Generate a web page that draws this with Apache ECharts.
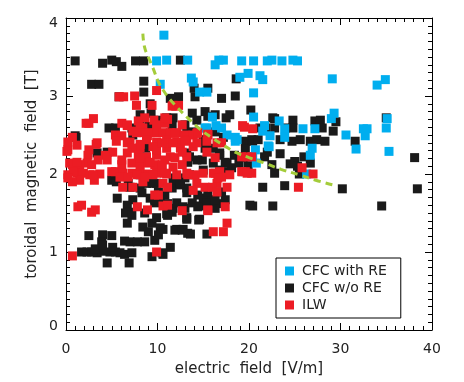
<!DOCTYPE html>
<html><head><meta charset="utf-8">
<script src="https://cdn.jsdelivr.net/npm/echarts@6/dist/echarts.min.js"></script>
<style>html,body{margin:0;padding:0;background:#fff}#c{width:464px;height:382px}</style>
</head><body><div id="c"></div>
<script>
// axis tick values
const xTicks = [0, 10, 20, 30, 40];
const yTicks = [0, 1, 2, 3, 4];

// series names
const seriesNames = ['CFC with RE', 'CFC w/o RE', 'ILW'];

// CFC with runaway electrons [E (V/m), B (T)]
const cfcWithRE = [
[10.7,3.78],[9.9,3.45],[11.0,3.46],[13.3,3.46],[10.3,3.15],[13.7,3.23],[13.9,3.18],[14.6,3.05],[15.4,3.05],
[16.7,3.46],[16.3,3.40],[17.2,3.46],[16.0,2.73],[15.4,2.59],[17.0,2.59],[17.6,2.50],[18.5,2.42],[15.2,2.59],
[19.2,3.45],[20.5,3.45],[19.9,3.29],[19.0,3.24],[20.5,2.73],[20.5,3.04],[22.0,3.45],[22.5,3.46],[23.6,3.45],
[24.8,3.46],[25.3,3.45],[21.2,3.26],[21.5,3.21],[29.1,3.22],[21.7,2.62],[21.5,2.55],[23.3,2.68],[23.9,2.58],
[22.3,2.49],[23.9,2.47],[25.9,2.58],[27.2,2.58],[29.0,2.71],[29.3,2.78],[30.6,2.50],[22.1,2.36],[26.9,2.33],
[34.9,3.21],[34.0,3.14],[35.1,2.71],[35.0,2.59],[32.5,2.58],[32.9,2.58],[32.7,2.49],[31.7,2.32],[35.3,2.29],
[26.7,2.24],[26.3,2.00],[20.7,2.31],[22.2,2.35],[20.8,2.14],[20.4,2.22],[18.5,2.47],[18.7,2.44],[16.4,2.62]
];

// CFC without runaway electrons
const cfcWithoutRE = [
[1.0,3.45],[4.0,3.42],[5.0,3.46],[5.5,3.44],[6.1,3.38],[7.6,3.45],[8.5,3.45],[12.5,3.46],
[2.8,3.15],[3.6,3.15],[8.5,3.19],[8.5,3.05],[5.8,2.99],[9.2,2.90],[8.1,2.76],[9.3,2.78],[4.7,2.59],[5.4,2.59],
[7.2,2.59],[1.0,2.49],[9.1,2.61],[11.4,2.97],[14.0,3.10],[14.1,2.99],[15.5,3.10],[17.0,2.97],[12.3,2.99],[18.5,3.00],
[13.8,2.78],[15.2,2.80],[17.5,2.72],[17.9,2.76],[11.7,2.72],[14.3,2.69],[15.5,2.74],[11.6,2.62],[9.9,2.69],[11.0,2.72],
[16.3,2.76],[20.2,2.82],[19.6,2.42],[20.3,2.44],[22.6,2.72],[24.8,2.69],[27.2,2.68],[27.8,2.69],[29.5,2.67],[29.2,2.55],
[28.0,2.59],[22.8,2.59],[24.8,2.59],[21.2,2.59],[20.4,2.42],[21.0,2.44],[24.7,2.42],[25.6,2.44],[26.7,2.42],[27.4,2.44],
[28.3,2.42],[23.4,2.44],[22.8,2.71],[35.0,2.72],[31.6,2.42],[38.1,2.21],[38.4,1.81],[30.2,1.81],[18.6,3.22],[21.8,2.59],
[24.0,2.59],[23.4,2.26],[22.5,2.12],[21.7,2.22],[24.5,2.13],[25.0,2.16],[26.0,2.22],[26.7,2.14],[22.8,2.01],[25.5,2.00],
[21.5,1.83],[23.9,1.85],[18.4,2.24],[18.9,2.14],[20.4,1.59],[22.6,1.59],[34.5,1.59],[22.0,2.28],[25.3,2.10],
[4.5,2.28],[8.7,2.33],[5.0,1.92],[5.6,1.69],[7.0,1.83],[8.1,1.82],[8.3,1.76],[7.3,1.67],[6.7,1.60],[7.0,1.51],
[6.5,1.50],[7.2,1.47],[6.7,1.37],[8.6,1.50],[8.4,1.32],[9.0,1.26],[9.4,1.37],[9.2,1.69],[9.7,1.63],[2.5,1.21],
[4.0,1.22],[5.0,1.21],[3.9,1.13],[6.4,1.14],[7.0,1.13],[7.8,1.13],[8.6,1.13],[1.7,1.00],[2.3,1.00],[2.8,1.00],
[3.4,0.99],[3.9,1.01],[3.2,1.04],[4.8,1.00],[5.4,1.00],[5.9,0.99],[6.4,0.97],[7.2,0.99],[4.5,0.86],[6.9,0.86],
[9.4,0.94],[5.1,1.06],[4.0,1.09],[9.7,1.15],[10.6,1.29],[12.1,1.29],[12.8,1.29],[13.6,1.23],[14.5,1.41],[15.4,1.23],
[11.4,1.06],[10.6,0.97],[9.9,1.44],[11.0,1.49],[11.1,1.62],[13.2,1.44],[11.7,1.56],[13.0,1.56],[14.6,1.59],[16.1,1.59],
[16.8,1.62],[15.4,1.69],[10.3,1.69],[9.9,1.88],[10.8,1.73],[11.6,1.82],[12.5,1.86],[13.2,1.82],[13.0,1.95],[11.9,1.95],
[13.2,1.76],[14.4,1.73],[15.0,1.69],[15.4,1.63],[16.3,1.56],[16.3,1.67],[17.4,1.67],[17.0,1.77],[15.5,1.77],[14.4,1.58],
[13.2,1.42],[14.6,1.42],[10.3,1.31],[11.9,1.28],[12.7,1.28],[13.3,1.24],[10.5,0.99],[20.1,1.60],[16.8,2.24],[17.4,2.15],
[17.4,2.03],[18.1,2.08],[15.2,2.33],[14.9,2.18],[13.3,2.15],[13.5,2.22],[10.1,1.77],[9.7,1.67],[11.6,1.51],[12.1,1.63],
[12.8,1.58],[13.8,1.63],[11.1,1.47],[10.1,1.22],[19.6,2.32],[19.9,2.12],[19.3,2.03],[19.0,2.21],[15.0,2.44],[16.1,2.33],
[16.8,2.27],[13.2,2.27],[14.3,2.18],[16.1,2.14],[17.6,2.14],[16.8,2.05],[15.0,2.05],[13.5,1.99],[5.5,1.90],[8.8,1.88],
[9.5,1.88],[8.1,1.99],[11.7,1.92],[12.5,1.88],[6.8,1.88],[3.4,2.27],[1.1,2.47],[7.3,2.50],[8.1,2.67],[13.0,2.63],
[13.2,2.53],[13.8,2.54],[16.3,2.54],[17.2,2.47]
];

// ILW
const ilw = [
[5.8,2.99],[6.3,2.99],[7.5,3.00],[7.7,2.88],[9.9,3.07],[2.5,2.65],[3.0,2.71],[6.1,2.65],[6.7,2.62],[8.6,2.72],
[7.9,2.68],[9.6,2.69],[8.4,2.59],[7.3,2.55],[5.4,2.50],[6.1,2.49],[0.7,2.47],[0.2,2.41],[1.2,2.37],[3.3,2.38],
[5.5,2.42],[7.0,2.41],[8.1,2.38],[8.9,2.49],[9.2,2.53],[9.9,2.53],[2.5,2.31],[9.4,2.88],[11.6,2.87],[12.0,2.87],
[2.2,2.65],[6.7,2.63],[8.1,2.60],[9.9,2.63],[10.8,2.65],[11.1,2.70],[12.7,2.63],[14.3,2.52],[15.5,2.50],[0.2,2.31],
[3.4,2.40],[6.7,2.40],[7.7,2.53],[8.4,2.53],[10.6,2.53],[11.4,2.53],[12.1,2.53],[13.0,2.50],[8.8,2.44],[9.9,2.41],
[11.0,2.44],[12.1,2.41],[13.2,2.44],[13.9,2.35],[12.5,2.33],[11.0,2.33],[9.5,2.35],[8.1,2.34],[7.2,2.33],[15.4,2.28],
[9.9,2.24],[11.4,2.22],[13.2,2.22],[8.8,2.22],[7.9,2.24],[6.7,2.27],[5.1,2.28],[4.3,2.24],[3.5,2.18],[2.4,2.24],
[2.3,2.14],[2.8,2.12],[1.5,2.12],[0.7,2.12],[0.2,1.99],[1.2,2.01],[1.9,2.01],[2.6,1.99],[3.7,2.00],[5.4,2.03],
[6.1,2.12],[7.2,2.14],[8.1,2.12],[9.0,2.14],[9.7,2.12],[10.5,2.09],[11.7,2.09],[12.7,2.12],[6.2,2.01],[7.2,2.01],
[8.1,2.01],[9.0,2.00],[9.9,2.01],[11.0,2.00],[12.1,1.99],[13.2,2.01],[14.1,1.99],[15.0,2.01],[16.1,2.01],[16.8,2.03],
[8.4,1.90],[10.6,1.88],[14.3,1.88],[16.5,1.88],[1.5,1.92],[0.7,1.90],[3.1,1.92],[0.1,2.29],[0.4,2.14],[1.2,2.15],
[4.5,2.18],[6.1,2.18],[8.1,2.21],[9.2,2.15],[0.8,2.03],[3.0,1.99],[5.0,2.03],[5.9,1.96],[6.8,1.96],[7.8,1.99],
[8.6,1.96],[9.5,1.99],[0.2,1.95],[6.2,1.83],[7.3,1.83],[7.8,1.58],[8.9,1.54],[9.7,1.73],[1.3,1.58],[1.7,1.60],
[2.8,1.51],[3.2,1.54],[0.7,0.95],[9.9,1.00],[10.6,1.59],[12.7,1.53],[15.5,1.53],[16.1,1.26],[17.2,1.26],[17.6,1.37],
[9.9,2.31],[10.8,2.18],[11.9,2.21],[12.7,2.28],[16.3,2.21],[10.5,2.12],[10.8,2.01],[13.3,1.99],[16.3,2.01],[17.0,1.96],
[17.9,1.99],[19.6,2.03],[20.3,2.01],[16.6,1.95],[11.1,1.83],[13.9,1.79],[15.2,1.83],[16.0,1.83],[16.5,1.77],[17.6,1.83],
[10.1,1.73],[11.1,1.60],[15.5,1.54],[17.4,1.58],[20.3,2.22],[25.8,2.08],[27.0,2.00],[25.4,1.83],[19.5,2.60],[20.4,2.58],
[19.2,2.22],[19.8,2.22],[19.2,2.03],[19.8,2.01],[11.7,2.88],[12.3,2.88],[10.8,2.72],[11.9,2.52],[13.9,2.50],[14.4,2.53],
[15.5,2.51],[19.3,2.62],[10.5,2.40],[11.7,2.40],[13.0,2.42],[14.3,2.40],[15.4,2.42],[16.5,2.40],[17.0,2.40]
];

// dashed green threshold curve
const thresholdCurve = [
[8.4,3.80],[8.6,3.62],[9.0,3.50],[9.5,3.36],[10.1,3.18],[10.6,3.08],[11.2,2.98],[12.2,2.85],[13.3,2.72],
[14.6,2.58],[16.0,2.46],[17.2,2.37],[18.5,2.28],[20.0,2.21],[21.7,2.14],[23.5,2.06],[25.5,1.99],[27.3,1.92],[29.2,1.86]
];

const colors = { withRE: '#00AEEF', withoutRE: '#1A1A1A', ilw: '#EC1C24', curve: '#A4CC3A' };
const FONT = 'DejaVu Sans';
const textColor = '#222';

function axisCommon(min, max, interval) {
  return {
    type: 'value', min: min, max: max, interval: interval,
    axisLine: { show: true, onZero: false, lineStyle: { color: '#000', width: 1 } },
    axisTick: { show: true, inside: true, length: 7, lineStyle: { color: '#000', width: 1 } },
    minorTick: { show: true, splitNumber: 10, length: 4, lineStyle: { color: '#000', width: 1 } },
    splitLine: { show: false },
    minorSplitLine: { show: false }
  };
}

const labelText = { fontFamily: FONT, fontSize: 14, color: textColor };

const chart = echarts.init(document.getElementById('c'), null, { renderer: 'canvas' });
chart.setOption({
  animation: false,
  backgroundColor: '#fff',
  grid: { left: 66, top: 18, right: 32, bottom: 52, containLabel: false },
  xAxis: [
    Object.assign(axisCommon(xTicks[0], xTicks[xTicks.length - 1], xTicks[1] - xTicks[0]), {
      position: 'bottom',
      name: 'electric  field  [V/m]', nameLocation: 'middle', nameGap: 32, nameMoveOverlap: false,
      nameTextStyle: { fontFamily: FONT, fontSize: 15, color: textColor, verticalAlign: 'top' },
      axisLabel: Object.assign({ show: true, margin: 12 }, labelText)
    }),
    Object.assign(axisCommon(xTicks[0], xTicks[xTicks.length - 1], xTicks[1] - xTicks[0]), {
      position: 'top', axisLabel: { show: false }
    })
  ],
  yAxis: [
    Object.assign(axisCommon(yTicks[0], yTicks[yTicks.length - 1], yTicks[1] - yTicks[0]), {
      position: 'left',
      name: 'toroidal  magnetic  field  [T]', nameLocation: 'middle', nameGap: 26, nameMoveOverlap: false,
      nameTextStyle: { fontFamily: FONT, fontSize: 15, color: textColor },
      axisLabel: Object.assign({
        show: true, margin: 8,
        formatter: function (v) {
          if (v === yTicks[yTicks.length - 1]) return '{top|' + v + '}';
          if (v === yTicks[0]) return '{bot|' + v + '}';
          return String(v);
        },
        rich: {
          top: Object.assign({ padding: [11, 0, 0, 0] }, labelText),
          bot: Object.assign({ padding: [0, 0, 7, 0] }, labelText)
        }
      }, labelText)
    }),
    Object.assign(axisCommon(yTicks[0], yTicks[yTicks.length - 1], yTicks[1] - yTicks[0]), {
      position: 'right', axisLabel: { show: false }
    })
  ],
  legend: {
    data: seriesNames,
    orient: 'vertical', left: 276, top: 258,
    icon: 'rect', itemWidth: 9, itemHeight: 9, itemGap: 3,
    padding: [6, 14, 6, 9],
    borderColor: '#000', borderWidth: 1, backgroundColor: '#fff',
    textStyle: { fontFamily: FONT, fontSize: 14, color: textColor, padding: [0, 0, 0, 3] }
  },
  series: [
    { name: seriesNames[1], type: 'scatter', data: cfcWithoutRE, symbol: 'rect', symbolSize: 9,
      itemStyle: { color: colors.withoutRE, opacity: 1 }, xAxisIndex: 0, yAxisIndex: 0 },
    { name: seriesNames[0], type: 'scatter', data: cfcWithRE, symbol: 'rect', symbolSize: 9,
      itemStyle: { color: colors.withRE, opacity: 1 }, xAxisIndex: 0, yAxisIndex: 0 },
    { name: seriesNames[2], type: 'scatter', data: ilw, symbol: 'rect', symbolSize: 9,
      itemStyle: { color: colors.ilw, opacity: 1 }, xAxisIndex: 0, yAxisIndex: 0 },
    { name: 'threshold', type: 'line', data: thresholdCurve, smooth: true, showSymbol: false,
      lineStyle: { color: colors.curve, width: 3, type: [7, 5] }, z: 5, xAxisIndex: 0, yAxisIndex: 0 }
  ]
});
</script>
</body></html>
